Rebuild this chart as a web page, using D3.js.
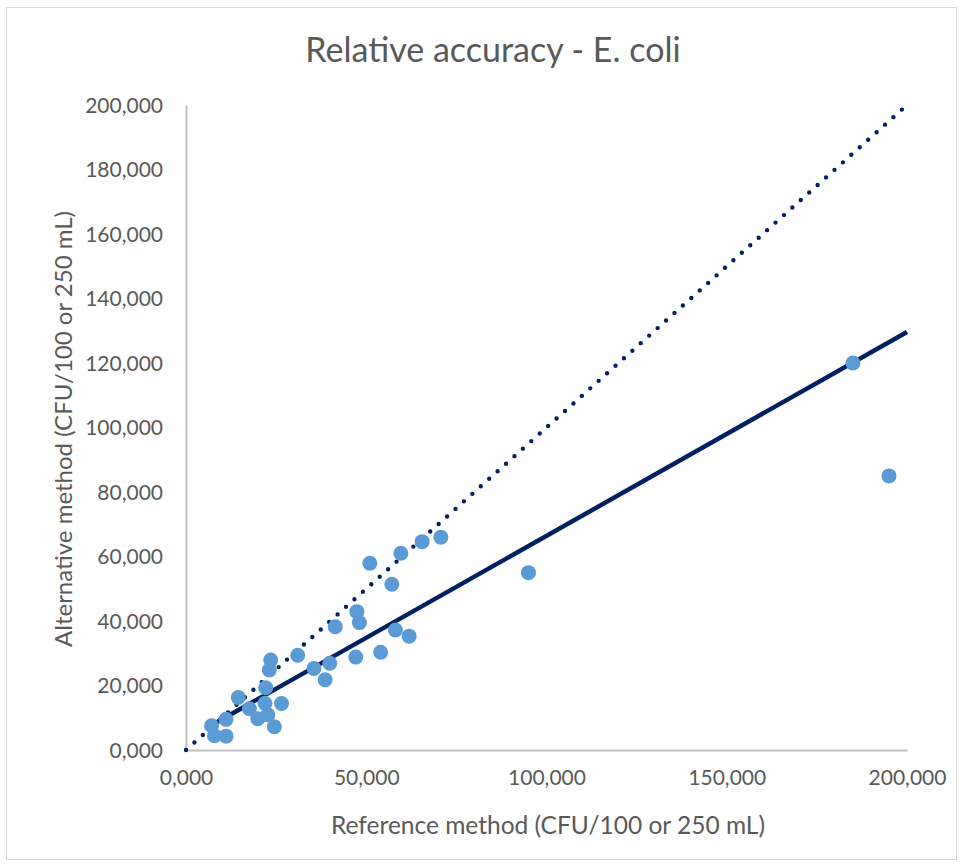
<!DOCTYPE html>
<html>
<head>
<meta charset="utf-8">
<script src="https://cdn.jsdelivr.net/npm/d3@7"></script>
<style>
  html, body { margin: 0; padding: 0; background: #ffffff; }
  svg { display: block; }
  text { font-family: Lato, "Open Sans", sans-serif; fill: #595959; }
</style>
</head>
<body>
<svg id="chart" width="963" height="867"></svg>
<script>
// Paired counts: reference method (x) vs alternative method (y), CFU/100 or 250 mL
const referenceCounts = [185000, 195000, 95000, 70700, 65500, 59600, 51000, 57100, 47400, 48100,
  41400, 58100, 61900, 31000, 47100, 54000, 39900, 35500, 38600, 23500,
  23100, 22100, 14500, 17600, 21900, 26500, 19900, 22700, 24500, 11100,
  7100, 7900, 11100];
const alternativeCounts = [120000, 85000, 55000, 66000, 64600, 61000, 57900, 51400, 42900, 39500,
  38200, 37200, 35300, 29400, 28800, 30300, 26900, 25300, 21800, 27900,
  24800, 19300, 16300, 12800, 14500, 14400, 9700, 10900, 7200, 9500,
  7500, 4400, 4300];

// Linear fit of the pairs, and the 1:1 line
const trendSlope = 0.632;
const trendIntercept = 3200;
const identityLine = [0, 200000];

const xTicks = [0, 50000, 100000, 150000, 200000];
const xTickLabels = ["0,000", "50,000", "100,000", "150,000", "200,000"];
const yTicks = [0, 20000, 40000, 60000, 80000, 100000, 120000, 140000, 160000, 180000, 200000];
const yTickLabels = ["0,000", "20,000", "40,000", "60,000", "80,000", "100,000", "120,000",
  "140,000", "160,000", "180,000", "200,000"];

const chartTitle = "Relative accuracy - E. coli";
const xTitle = "Reference method (CFU/100 or 250 mL)";
const yTitle = "Alternative method (CFU/100 or 250 mL)";

const svg = d3.select("#chart");
const W = 963, H = 867;
const plot = { left: 186, right: 907, top: 105, bottom: 750 };

// outer chart frame
svg.append("rect")
  .attr("x", 6.5).attr("y", 7.5)
  .attr("width", W - 13).attr("height", H - 15)
  .attr("fill", "#ffffff")
  .attr("stroke", "#d9d9d9").attr("stroke-width", 1);

const x = d3.scaleLinear().domain([0, 200000]).range([plot.left, plot.right]);
const y = d3.scaleLinear().domain([0, 200000]).range([plot.bottom, plot.top]);

// axes (lines only, labels drawn from the label arrays)
const xAxis = d3.axisBottom(x).tickValues(xTicks).tickSize(0)
  .tickFormat((d, i) => xTickLabels[i]).tickPadding(20);
const yAxis = d3.axisLeft(y).tickValues(yTicks).tickSize(0)
  .tickFormat((d, i) => yTickLabels[i]).tickPadding(23);

const gx = svg.append("g").attr("transform", `translate(0,${plot.bottom})`).call(xAxis);
const gy = svg.append("g").attr("transform", `translate(${plot.left},0)`).call(yAxis);

[gx, gy].forEach(g => {
  g.select(".domain").attr("stroke", "#bfbfbf").attr("stroke-width", 2);
  g.selectAll(".tick text")
    .attr("fill", "#595959")
    .style("font-family", "Lato, sans-serif")
    .style("font-size", "21px");
});
gx.selectAll(".tick text").attr("dy", "0.71em");
gy.selectAll(".tick text").attr("dy", "0.35em");

// 1:1 reference line (round dots)
svg.append("line")
  .attr("x1", x(identityLine[0])).attr("y1", y(identityLine[0]))
  .attr("x2", x(identityLine[1])).attr("y2", y(identityLine[1]))
  .attr("stroke", "#002060")
  .attr("stroke-width", 4.4)
  .attr("stroke-linecap", "round")
  .attr("stroke-dasharray", "0,11.3");

// linear trend line across the data range
const xStart = d3.min(referenceCounts);
const xEnd = 200000;
svg.append("line")
  .attr("x1", x(xStart)).attr("y1", y(trendIntercept + trendSlope * xStart))
  .attr("x2", x(xEnd)).attr("y2", y(trendIntercept + trendSlope * xEnd))
  .attr("stroke", "#002060")
  .attr("stroke-width", 4.5);

// data points
svg.append("g").selectAll("circle")
  .data(referenceCounts.map((v, i) => [v, alternativeCounts[i]]))
  .join("circle")
  .attr("cx", d => x(d[0]))
  .attr("cy", d => y(d[1]))
  .attr("r", 7.5)
  .attr("fill", "#5b9bd5");

// titles
svg.append("text")
  .attr("x", 493).attr("y", 62)
  .attr("text-anchor", "middle")
  .style("font-size", "34px")
  .text(chartTitle);

svg.append("text")
  .attr("x", 548).attr("y", 834)
  .attr("text-anchor", "middle")
  .style("font-size", "24.5px")
  .text(xTitle);

svg.append("text")
  .attr("transform", "translate(72,429) rotate(-90)")
  .attr("text-anchor", "middle")
  .style("font-size", "24px")
  .text(yTitle);
</script>
</body>
</html>
